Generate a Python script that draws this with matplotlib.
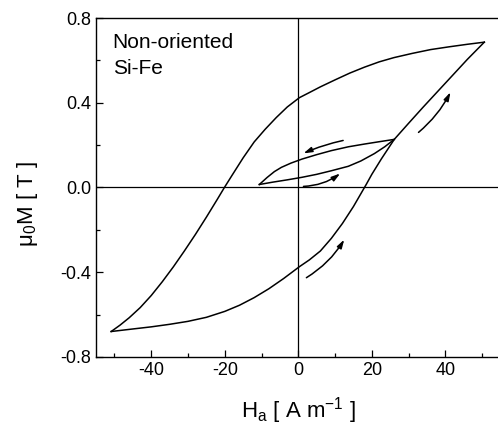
import matplotlib
matplotlib.use('Agg')
import matplotlib.pyplot as plt
from matplotlib.ticker import MultipleLocator

plt.rcParams['font.family'] = ['Liberation Sans', 'DejaVu Sans']
plt.rcParams['mathtext.fontset'] = 'custom'
plt.rcParams['mathtext.rm'] = 'Liberation Sans'
plt.rcParams['mathtext.it'] = 'Liberation Sans'
plt.rcParams['mathtext.default'] = 'regular'

# major loop, descending branch (from +tip to -tip)
desc_H = [50.6, 46, 41, 36, 31, 26, 22, 18, 14, 10, 6, 3, 0.3, -3, -6, -9, -12, -15,
          -18, -20.1, -22, -25, -28, -31, -34, -37, -40, -43, -46, -48.5, -50.9]
desc_M = [0.686, 0.676, 0.664, 0.651, 0.633, 0.613, 0.593, 0.568, 0.54, 0.508, 0.475,
          0.448, 0.424, 0.38, 0.33, 0.275, 0.215, 0.14, 0.058, 0.0, -0.055, -0.14,
          -0.222, -0.3, -0.375, -0.445, -0.51, -0.567, -0.615, -0.65, -0.68]

# major loop, ascending branch (from -tip to +tip)
asc_H = [-50.9, -45, -40, -35, -30, -25, -20, -16, -12, -8, -4, 0.3, 3, 6, 9, 12, 15,
         17, 18.5, 20, 22.6, 26.1, 30, 34, 38, 42, 46, 50.6]
asc_M = [-0.68, -0.668, -0.658, -0.646, -0.632, -0.613, -0.585, -0.556, -0.52, -0.478,
         -0.43, -0.374, -0.342, -0.3, -0.24, -0.17, -0.09, -0.03, 0.015, 0.062, 0.135,
         0.227, 0.303, 0.38, 0.455, 0.53, 0.605, 0.686]

# minor loop
minor_up_H = [26.1, 22, 18, 13.6, 9, 5, 1, -2, -4.6, -6.5, -8.5, -10.6]
minor_up_M = [0.227, 0.216, 0.205, 0.192, 0.174, 0.155, 0.134, 0.115, 0.095, 0.075,
              0.047, 0.014]
minor_lo_H = [-10.6, -7, -3, 1, 5, 9, 13.6, 17, 20.7, 23.5, 26.1]
minor_lo_M = [0.014, 0.025, 0.036, 0.048, 0.062, 0.079, 0.1, 0.125, 0.16, 0.192, 0.227]

# direction arrows: (start H, start M, end H, end M, curvature)
arrows = [
    (12.2, 0.222, 1.4, 0.161, 0.05),
    (1.4, 0.005, 11.4, 0.066, 0.15),
    (32.7, 0.26, 41.4, 0.45, 0.1),
    (2.2, -0.426, 12.5, -0.246, 0.12),
]

fig = plt.figure(figsize=(4.98, 4.29), dpi=100)
ax = fig.add_axes([0.193, 0.168, 0.812, 0.79])

ax.axhline(0, color='black', lw=0.9)
ax.axvline(0, color='black', lw=0.9)

ax.plot(desc_H, desc_M, color='black', lw=1.1)
ax.plot(asc_H, asc_M, color='black', lw=1.1)
ax.plot(minor_up_H, minor_up_M, color='black', lw=1.1)
ax.plot(minor_lo_H, minor_lo_M, color='black', lw=1.1)

for x0, y0, x1, y1, rad in arrows:
    ax.annotate('', xy=(x1, y1), xytext=(x0, y0),
                arrowprops=dict(arrowstyle='-|>,head_length=0.5,head_width=0.15',
                                color='black', lw=1.1, shrinkA=0, shrinkB=0,
                                connectionstyle=f'arc3,rad={rad}'))

ax.set_xlim(-55, 55)
ax.set_ylim(-0.8, 0.8)
ax.xaxis.set_minor_locator(MultipleLocator(10))
ax.yaxis.set_major_locator(MultipleLocator(0.4))
ax.yaxis.set_minor_locator(MultipleLocator(0.2))
ax.set_xticks([-40, -20, 0, 20, 40])
ax.tick_params(which='major', direction='in', length=5, width=0.9, labelsize=13)
ax.tick_params(which='minor', direction='in', length=3, width=0.9)
ax.yaxis.set_major_formatter(plt.FuncFormatter(lambda v, p: f'{v:.1f}'))
ax.xaxis.set_major_formatter(plt.FuncFormatter(lambda v, p: f'{v:.0f}'))

for s in ax.spines.values():
    s.set_linewidth(1.0)

ax.text(-50.5, 0.73, 'Non-oriented\nSi-Fe', fontsize=15, va='top', ha='left',
        linespacing=1.45)

ax.set_xlabel('H$_a$ [ A m$^{-1}$ ]', fontsize=16, labelpad=12)
ax.set_ylabel('μ$_0$M [ T ]', fontsize=16)
ax.yaxis.set_label_coords(-0.14, 0.45)

fig.savefig('out.png', dpi=100)
